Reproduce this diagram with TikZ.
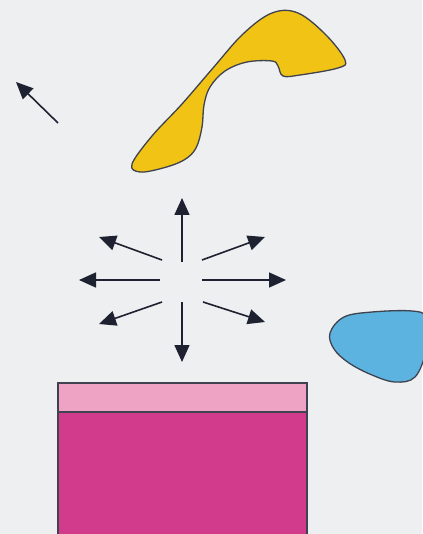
\documentclass[tikz,border=0pt]{standalone}
\usepackage{xcolor}
\usepackage{tikz}
\usetikzlibrary{arrows.meta}

\definecolor{paper}{HTML}{EDEFF1}
\definecolor{lemon}{HTML}{F1C314}
\definecolor{sky}{HTML}{5CB3DF}
\definecolor{rose}{HTML}{D23B8B}
\definecolor{blush}{HTML}{EEA3C4}
\definecolor{ink}{HTML}{1D2130}

\begin{document}
\begin{tikzpicture}[
    x=1pt, y=-1pt,
    outline/.style={draw=ink!85, line width=1.3pt},
    ray/.style={-{Triangle[length=17pt,width=15pt]}, ink, line width=1.6pt}
]
    \fill[paper] (0,0) rectangle (422,534);
    \useasboundingbox (0,0) rectangle (422,534);

    % yellow blob
    \draw[outline, fill=lemon] plot[smooth cycle, tension=0.6] coordinates {
        (132,164) (152,136) (182,104) (213,68) (243,34) (272,13)
        (298,13) (326,35) (345,60) (338,68) (300,75) (283,76)
        (278,66) (272,61) (247,62) (225,71) (210,87) (204,105)
        (202,127) (196,148) (184,160) (163,168) (140,172)};

    % blue blob
    \draw[outline, fill=sky] plot[smooth cycle, tension=0.6] coordinates {
        (330,333) (344,317) (372,312) (412,311) (426,318) (426,350)
        (415,377) (395,382) (372,375) (349,363) (334,349)};

    % pink box
    \draw[outline, fill=rose] (58,383) rectangle (307,536);
    \draw[outline, fill=blush] (58,383) rectangle (307,412);

    % arrows
    \coordinate (lone) at (58,123);
    \coordinate (loneTip) at (16,82);
    \draw[ray] (lone) -- (loneTip);

    \coordinate (n) at (182,262);   \coordinate (nTip) at (182,198);
    \coordinate (s) at (182,302);   \coordinate (sTip) at (182,362);
    \coordinate (w) at (160,280);   \coordinate (wTip) at (79,280);
    \coordinate (e) at (202,280);   \coordinate (eTip) at (286,280);
    \coordinate (nw) at (162,260);  \coordinate (nwTip) at (99,237);
    \coordinate (ne) at (202,260);  \coordinate (neTip) at (265,237);
    \coordinate (sw) at (162,302);  \coordinate (swTip) at (99,324);
    \coordinate (se) at (203,302);  \coordinate (seTip) at (265,322);
    \foreach \d in {n,s,w,e,nw,ne,sw,se}
        \draw[ray] (\d) -- (\d Tip);
\end{tikzpicture}
\end{document}
